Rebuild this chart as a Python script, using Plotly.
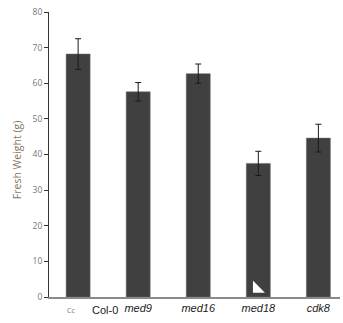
import plotly.graph_objects as go

categories = ["Col-0", "med9", "med16", "med18", "cdk8"]
values = [68.2, 57.6, 62.7, 37.5, 44.6]
errors = [4.3, 2.6, 2.7, 3.4, 3.9]
tick_labels = ["", "<i>med9</i>", "<i>med16</i>", "<i>med18</i>", "<i>cdk8</i>"]
y_ticks = [0, 10, 20, 30, 40, 50, 60, 70, 80]

xs = list(range(len(categories)))

fig = go.Figure()
fig.add_trace(go.Bar(
    x=xs, y=values, width=0.4,
    marker=dict(color="#404040", line=dict(color="#6a6a6a", width=0.5)),
    error_y=dict(type="data", array=errors, visible=True, color="#1a1a1a",
                 thickness=1, width=3),
    showlegend=False,
))

# small white notch drawn inside the med18 bar
fig.add_shape(type="path",
              path="M 2.91,1.2 L 2.91,4.6 L 3.11,1.2 Z",
              xref="x", yref="y", fillcolor="white", line=dict(width=0))

fig.add_annotation(x=0.44, y=0, xref="x", yref="paper", yanchor="top", yshift=-5,
                   text=categories[0], showarrow=False,
                   font=dict(family="Arial, Liberation Sans", size=11, color="#222"))
fig.add_annotation(x=-0.12, y=0, xref="x", yref="paper", yanchor="top", yshift=-7,
                   text="Cc", showarrow=False,
                   font=dict(family="Open Sans, DejaVu Sans", size=7, color="#777"))
fig.add_annotation(x=0, y=0.48, xref="paper", yref="paper", xanchor="center",
                   xshift=-32, textangle=-90, text="Fresh Weight (g)", showarrow=False,
                   font=dict(family="Open Sans, DejaVu Sans", size=10.5, color="#8a7560"))

fig.update_layout(
    width=343, height=323,
    margin=dict(l=49, r=3, t=12, b=26),
    plot_bgcolor="white", paper_bgcolor="white",
    bargap=0.6,
    xaxis=dict(range=[-0.485, 4.36], tickvals=xs, ticktext=tick_labels,
               showline=True, linecolor="#8a8a8a", linewidth=1.5,
               ticks="", showgrid=False, zeroline=False,
               tickfont=dict(family="Arial, Liberation Sans", size=11, color="#222")),
    yaxis=dict(range=[0, 80], tickvals=y_ticks, showline=True,
               linecolor="#333", linewidth=1, ticks="outside", ticklen=4,
               tickcolor="#333", showgrid=False, zeroline=False,
               tickfont=dict(family="Open Sans, DejaVu Sans", size=8.5, color="#777")),
)

fig.write_html("out.html")
